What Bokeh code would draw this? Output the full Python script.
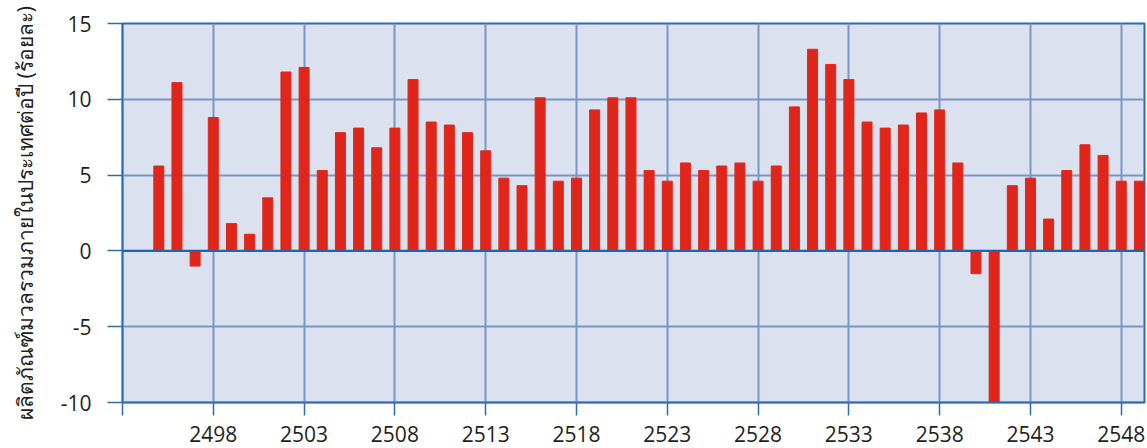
from bokeh.plotting import figure
from bokeh.models import Range1d, FixedTicker, Span
from bokeh.embed import file_html
from bokeh.resources import INLINE

years = list(range(2495, 2550))
growth = [5.6, 11.1, -1.0, 8.8, 1.8, 1.1, 3.5, 11.8, 12.1, 5.3,
          7.8, 8.1, 6.8, 8.1, 11.3, 8.5, 8.3, 7.8, 6.6, 4.8,
          4.3, 10.1, 4.6, 4.8, 9.3, 10.1, 10.1, 5.3, 4.6, 5.8,
          5.3, 5.6, 5.8, 4.6, 5.6, 9.5, 13.3, 12.3, 11.3, 8.5,
          8.1, 8.3, 9.1, 9.3, 5.8, -1.5, -10.5, 4.3, 4.8, 2.1,
          5.3, 7.0, 6.3, 4.6, 4.6]
x_ticks = [2493, 2498, 2503, 2508, 2513, 2518, 2523, 2528, 2533, 2538, 2543, 2548]
y_ticks = [-10, -5, 0, 5, 10, 15]
y_label = "ผลิตภัณฑ์มวลรวมภายในประเทศต่อปี (ร้อยละ)"

p = figure(width=1147, height=448, output_backend="svg", toolbar_location=None,
           x_range=Range1d(2493, 2549.28), y_range=Range1d(-10, 15),
           min_border_left=122, min_border_right=3, min_border_top=23,
           min_border_bottom=46)
p.background_fill_color = "#dce1f0"
p.border_fill_color = "white"
p.outline_line_color = "#2a6db0"
p.outline_line_width = 2

p.vbar(x=years, top=growth, bottom=0, width=0.55, color="#e0261a")

p.add_layout(Span(location=0, dimension="width", line_color="#1f65ad", line_width=2))

for ax in (p.xaxis[0], p.yaxis[0]):
    ax.axis_line_color = "#2a6db0"
    ax.axis_line_width = 1.5
    ax.major_tick_line_color = "#2a6db0"
    ax.major_tick_line_width = 1.5
    ax.major_tick_in = 0
    ax.minor_tick_line_color = None
    ax.major_label_text_font = "Open Sans"
    ax.major_label_text_font_size = "21px"
    ax.major_label_text_color = "#231f20"

p.xaxis.ticker = FixedTicker(ticks=x_ticks)
p.xaxis.major_label_overrides = {2493: ""}
p.xaxis.major_tick_out = 13
p.xaxis.major_label_standoff = 10

p.yaxis.ticker = FixedTicker(ticks=y_ticks)
p.yaxis.major_label_overrides = {t: str(t) for t in y_ticks}
p.yaxis.major_tick_out = 15
p.yaxis.major_label_standoff = 16
p.yaxis.axis_label = y_label
p.yaxis.axis_label_text_font = "Noto Sans"
p.yaxis.axis_label_text_font_size = "21px"
p.yaxis.axis_label_text_font_style = "normal"
p.yaxis.axis_label_text_color = "#231f20"
p.yaxis.axis_label_standoff = 19

p.xgrid.grid_line_color = "#7896c8"
p.xgrid.grid_line_width = 2
p.ygrid.grid_line_color = "#7896c8"
p.ygrid.grid_line_width = 2

open("out.html", "w").write(file_html(p, INLINE))
